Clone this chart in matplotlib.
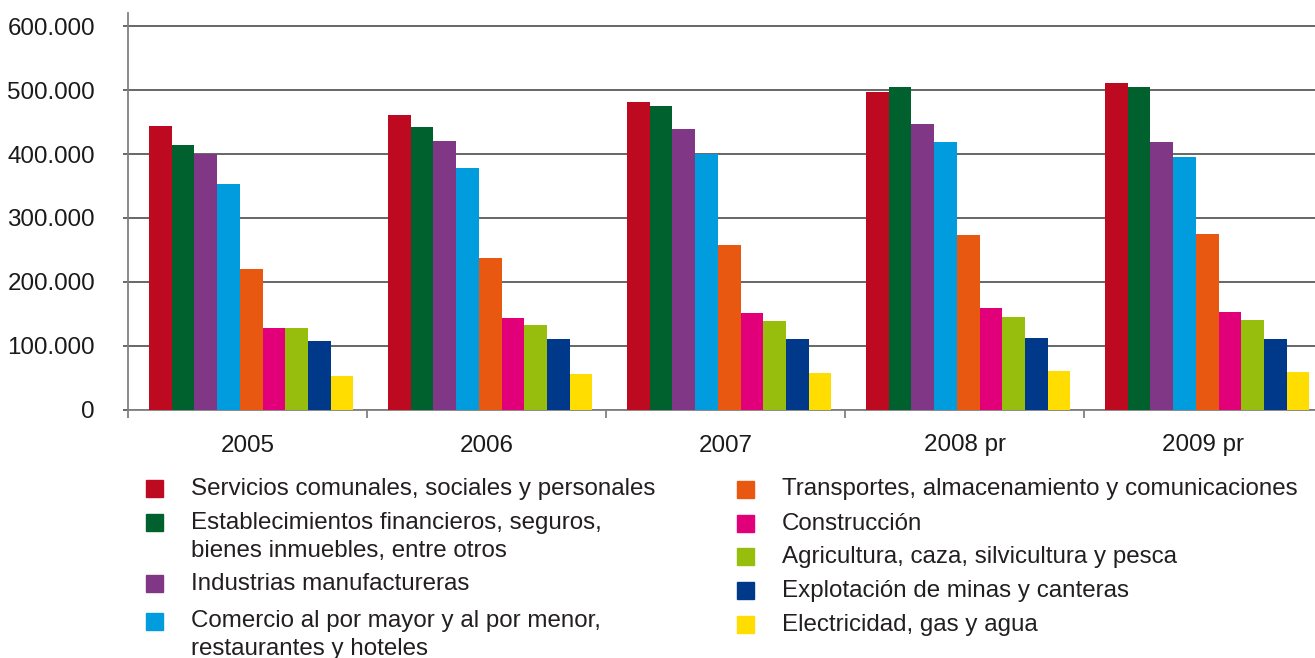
import matplotlib
matplotlib.use("Agg")
import matplotlib.pyplot as plt
from matplotlib.patches import Rectangle
from matplotlib.ticker import FuncFormatter, FixedLocator
import numpy as np

plt.rcParams['font.family'] = ['Liberation Sans', 'DejaVu Sans']

years = ["2005", "2006", "2007", "2008 pr", "2009 pr"]
series_names = [
    "Servicios comunales, sociales y personales",
    "Establecimientos financieros, seguros,\nbienes inmuebles, entre otros",
    "Industrias manufactureras",
    "Comercio al por mayor y al por menor,\nrestaurantes y hoteles",
    "Transportes, almacenamiento y comunicaciones",
    "Construcción",
    "Agricultura, caza, silvicultura y pesca",
    "Explotación de minas y canteras",
    "Electricidad, gas y agua",
]
colors = ["#BE0A20", "#00612E", "#7F3786", "#009CDE", "#E85811",
          "#E2007A", "#97BE0D", "#00388A", "#FFDD00"]

servicios = [444000, 461000, 482000, 497000, 512000]
financieros = [414000, 443000, 475000, 505000, 505000]
manufactura = [400000, 421000, 440000, 447000, 419000]
comercio = [353000, 378000, 400000, 419000, 396000]
transportes = [220000, 237000, 258000, 273000, 275000]
construccion = [128000, 143000, 151000, 159000, 153000]
agricultura = [128000, 132000, 139000, 145000, 140000]
minas = [107000, 110000, 110000, 112000, 110000]
electricidad = [53000, 55500, 57000, 60000, 59000]
values = [servicios, financieros, manufactura, comercio, transportes,
          construccion, agricultura, minas, electricidad]
yticks = [0, 100000, 200000, 300000, 400000, 500000, 600000]

W, H = 1315, 658
PT = 72 / 100  # points per pixel
FS = 17.4
fig = plt.figure(figsize=(W / 100, H / 100), dpi=100)
ax_l, ax_r, ax_b, ax_t = 128, 1323, 409.5, 13
ax = fig.add_axes([ax_l / W, (H - ax_b) / H, (ax_r - ax_l) / W, (ax_b - ax_t) / H])

x = np.arange(len(years))
bw = 0.095
start = -0.5 + 0.088
for i, (vals, c) in enumerate(zip(values, colors)):
    ax.bar(x + start + i * bw, vals, width=bw, align='edge', color=c,
           linewidth=0, zorder=3)

ax.set_xlim(-0.5, len(years) - 0.5)
ax.set_ylim(0, 621000)
ax.set_yticks(yticks)
ax.yaxis.set_major_formatter(FuncFormatter(
    lambda v, p: "0" if v == 0 else f"{int(v):,}".replace(",", ".")))
ax.grid(axis='y', color='#5a5a5a', linewidth=1.3, zorder=4)
ax.set_xticks(x)
ax.set_xticklabels(years)
ax.xaxis.set_minor_locator(FixedLocator(np.arange(-0.5, len(years), 1.0)))
ax.tick_params(axis='x', which='major', length=0, pad=25 * PT, labelsize=FS,
               colors='#1a1a1a')
ax.tick_params(axis='x', which='minor', length=8 * PT, width=1.3, color='#808080')
ax.tick_params(axis='y', length=5 * PT, width=1.3, color='#5a5a5a', labelsize=FS,
               labelcolor='#1a1a1a', pad=28 * PT)
for s in ['top', 'right']:
    ax.spines[s].set_visible(False)
ax.spines['left'].set_color('#808080')
ax.spines['left'].set_linewidth(1.3)
ax.spines['bottom'].set_color('#808080')
ax.spines['bottom'].set_linewidth(1.3)

# Legend (manual two columns)
left_rows = [488, 522, 583, 621]
right_rows = [489, 523, 556, 590, 624]
positions = [(146, y) for y in left_rows] + [(737, y) for y in right_rows]
sq = 17
line_h = 28
for (px, py), name, c in zip(positions, series_names, colors):
    fig.patches.append(Rectangle((px / W, (H - py - sq / 2) / H), sq / W, sq / H,
                                 transform=fig.transFigure, color=c, figure=fig))
    for k, line in enumerate(name.split("\n")):
        fig.text((px + 45) / W, (H - py - 6.5 - k * line_h) / H, line, fontsize=FS,
                 color='#231F20', va='baseline', ha='left')

fig.savefig("out.png", dpi=100)
